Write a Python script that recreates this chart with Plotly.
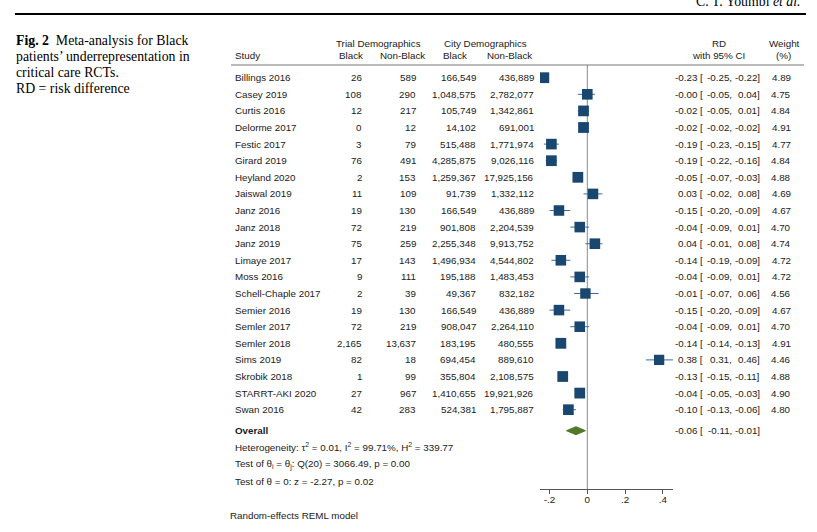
import plotly.graph_objects as go

W, H = 817, 532

studies = ["Billings 2016", "Casey 2019", "Curtis 2016", "Delorme 2017", "Festic 2017",
           "Girard 2019", "Heyland 2020", "Jaiswal 2019", "Janz 2016", "Janz 2018",
           "Janz 2019", "Limaye 2017", "Moss 2016", "Schell-Chaple 2017", "Semier 2016",
           "Semler 2017", "Semler 2018", "Sims 2019", "Skrobik 2018", "STARRT-AKI 2020",
           "Swan 2016"]
trial_black = ["26", "108", "12", "0", "3", "76", "2", "11", "19", "72", "75", "17", "9",
               "2", "19", "72", "2,165", "82", "1", "27", "42"]
trial_nonblack = ["589", "290", "217", "12", "79", "491", "153", "109", "130", "219", "259",
                  "143", "111", "39", "130", "219", "13,637", "18", "99", "967", "283"]
city_black = ["166,549", "1,048,575", "105,749", "14,102", "515,488", "4,285,875",
              "1,259,367", "91,739", "166,549", "901,808", "2,255,348", "1,496,934",
              "195,188", "49,367", "166,549", "908,047", "183,195", "694,454", "355,804",
              "1,410,655", "524,381"]
city_nonblack = ["436,889", "2,782,077", "1,342,861", "691,001", "1,771,974", "9,026,116",
                 "17,925,156", "1,332,112", "436,889", "2,204,539", "9,913,752", "4,544,802",
                 "1,483,453", "832,182", "436,889", "2,264,110", "480,555", "889,610",
                 "2,108,575", "19,921,926", "1,795,887"]
rd = [-0.23, -0.00, -0.02, -0.02, -0.19, -0.19, -0.05, 0.03, -0.15, -0.04, 0.04, -0.14,
      -0.04, -0.01, -0.15, -0.04, -0.14, 0.38, -0.13, -0.04, -0.10]
ci_lo = [-0.25, -0.05, -0.05, -0.02, -0.23, -0.22, -0.07, -0.02, -0.20, -0.09, -0.01, -0.19,
         -0.09, -0.07, -0.20, -0.09, -0.14, 0.31, -0.15, -0.05, -0.13]
ci_hi = [-0.22, 0.04, 0.01, -0.02, -0.15, -0.16, -0.03, 0.08, -0.09, 0.01, 0.08, -0.09,
         0.01, 0.06, -0.09, 0.01, -0.13, 0.46, -0.11, -0.03, -0.06]
weight = [4.89, 4.75, 4.84, 4.91, 4.77, 4.84, 4.88, 4.69, 4.67, 4.70, 4.74, 4.72, 4.72,
          4.56, 4.67, 4.70, 4.91, 4.46, 4.88, 4.90, 4.80]
overall = (-0.06, -0.11, -0.01)
tick_vals = [-0.2, 0, 0.2, 0.4]
tick_text = ["-.2", "0", ".2", ".4"]

# ---- geometry helpers (pixel -> coordinates) ----
ROW0, STEP = 77.7, 16.6
def rowv(px):
    return (px - ROW0) / STEP
def px_x(px):
    return px / W
def px_y(px):
    return 1 - px / H

AX_TOP, AX_BOT = 65, 489
ZERO_PX, SCALE = 587.3, 189.0
XL, XR = 540, 673
SANS = "Liberation Sans, Arial, sans-serif"
SERIF = "Liberation Serif, Times New Roman, serif"
TXT = "#1a1a1a"
FS = 9.8
CAP = 13.8
NAVY = "#1a476f"
GREEN = "#4f7a28"

idx = list(range(len(studies)))
ov_y = rowv(430.7)

fig = go.Figure()

# study estimates
fig.add_trace(go.Scatter(
    x=rd, y=idx, mode="markers",
    marker=dict(symbol="square", color=NAVY, opacity=1,
                size=[10.8 * (w / 4.91) ** 0.5 for w in weight], line=dict(width=0)),
    error_x=dict(type="data", symmetric=False,
                 array=[h - r for h, r in zip(ci_hi, rd)],
                 arrayminus=[r - l for r, l in zip(rd, ci_lo)],
                 width=0, thickness=1, color="#3f6c9c"),
    hoverinfo="skip", showlegend=False))

# overall diamond
est, lo, hi = overall
dh = 4.0 / STEP
fig.add_trace(go.Scatter(
    x=[lo, est, hi, est, lo], y=[ov_y, ov_y - dh, ov_y, ov_y + dh, ov_y],
    mode="lines", fill="toself", fillcolor=GREEN, line=dict(color=GREEN, width=1),
    hoverinfo="skip", showlegend=False))

ann = []
def A(text, x, y, xanchor="left", yref="paper", size=FS, font=SANS, color=TXT):
    ann.append(dict(text=text, x=px_x(x), y=y, xref="paper", yref=yref,
                    xanchor=xanchor, yanchor="middle", showarrow=False, borderpad=0,
                    font=dict(family=font, size=size, color=color)))

# rows
for i in idx:
    A(studies[i], 234, i, "left", "y")
    A(trial_black[i], 363, i, "right", "y")
    A(trial_nonblack[i], 417, i, "right", "y")
    A(city_black[i], 477, i, "right", "y")
    A(city_nonblack[i], 535, i, "right", "y")
    A(f"{rd[i]:.2f} [", 704.2, i, "right", "y")
    A(f"{ci_lo[i]:.2f},", 732.6, i, "right", "y")
    A(f"{ci_hi[i]:.2f}]", 761, i, "right", "y")
    A(f"{weight[i]:.2f}", 792, i, "right", "y")

A("<b>Overall</b>", 234, ov_y, "left", "y")
A(f"{est:.2f} [", 704.2, ov_y, "right", "y")
A(f"{lo:.2f},", 732.6, ov_y, "right", "y")
A(f"{hi:.2f}]", 761, ov_y, "right", "y")

# headers
A("Trial Demographics", 378, px_y(43.3), "center")
A("City Demographics", 485, px_y(43.3), "center")
A("Study", 234, px_y(55.7), "left")
A("Black", 351, px_y(55.7), "center")
A("Non-Black", 402, px_y(55.7), "center")
A("Black", 455.5, px_y(55.7), "center")
A("Non-Black", 533, px_y(55.7), "right")
A("RD", 719, px_y(43.3), "center")
A("with 95% CI", 718, px_y(55.7), "center")
A("Weight", 784, px_y(43.3), "center")
A("(%)", 783, px_y(55.7), "center")

# statistics text
A("Heterogeneity: τ<sup>2</sup> = 0.01, I<sup>2</sup> = 99.71%, H<sup>2</sup> = 339.77", 234, px_y(447), "left")
A("Test of θ<sub>i</sub> = θ<sub>j</sub>: Q(20) = 3066.49, p = 0.00", 234, px_y(464), "left")
A("Test of θ = 0: z = -2.27, p = 0.02", 234, px_y(481), "left")
A("Random-effects REML model", 229, px_y(515.7), "left")

# caption
A("<b>Fig. 2</b>  Meta-analysis for Black", 15, px_y(41), "left", size=CAP, font=SERIF, color="#000")
A("patients’ underrepresentation in", 15, px_y(56.5), "left", size=CAP, font=SERIF, color="#000")
A("critical care RCTs.", 15, px_y(72), "left", size=CAP, font=SERIF, color="#000")
A("RD = risk difference", 15, px_y(88), "left", size=CAP, font=SERIF, color="#000")
A("C. T. Youmbi <i>et al.</i>", 802, px_y(1.5), "right", size=CAP, font=SERIF, color="#000")

shapes = [
    dict(type="line", xref="paper", yref="paper", x0=px_x(15), x1=px_x(806),
         y0=px_y(14), y1=px_y(14), line=dict(color="#000", width=2)),
    dict(type="line", xref="paper", yref="paper", x0=px_x(231), x1=px_x(804),
         y0=px_y(AX_TOP), y1=px_y(AX_TOP), line=dict(color="#777", width=1)),
    dict(type="line", xref="x", yref="y domain", x0=0, x1=0, y0=0, y1=1,
         line=dict(color="#8a8a8a", width=1), layer="below"),
]

xaxis = dict(domain=[px_x(XL), px_x(XR)],
             range=[(XL - ZERO_PX) / SCALE, (XR - ZERO_PX) / SCALE],
             tickvals=tick_vals, ticktext=tick_text, showgrid=False, zeroline=False,
             showline=True, linecolor="#555", linewidth=1,
             ticks="outside", ticklen=4, tickcolor="#555", tickwidth=1,
             tickfont=dict(family=SANS, size=FS, color=TXT))

fig.update_layout(
    width=W, height=H, margin=dict(l=0, r=0, t=0, b=0),
    paper_bgcolor="white", plot_bgcolor="white",
    annotations=ann, shapes=shapes, showlegend=False,
    xaxis=xaxis,
    yaxis=dict(domain=[px_y(AX_BOT), px_y(AX_TOP)],
               range=[rowv(AX_BOT), rowv(AX_TOP)], visible=False),
)
try:
    fig.update_xaxes(ticklabelstandoff=-3)
except Exception:
    pass

fig.write_html("out.html", config={"displayModeBar": False, "staticPlot": True},
               post_script="document.body.style.margin='0';document.body.style.overflow='hidden';")
